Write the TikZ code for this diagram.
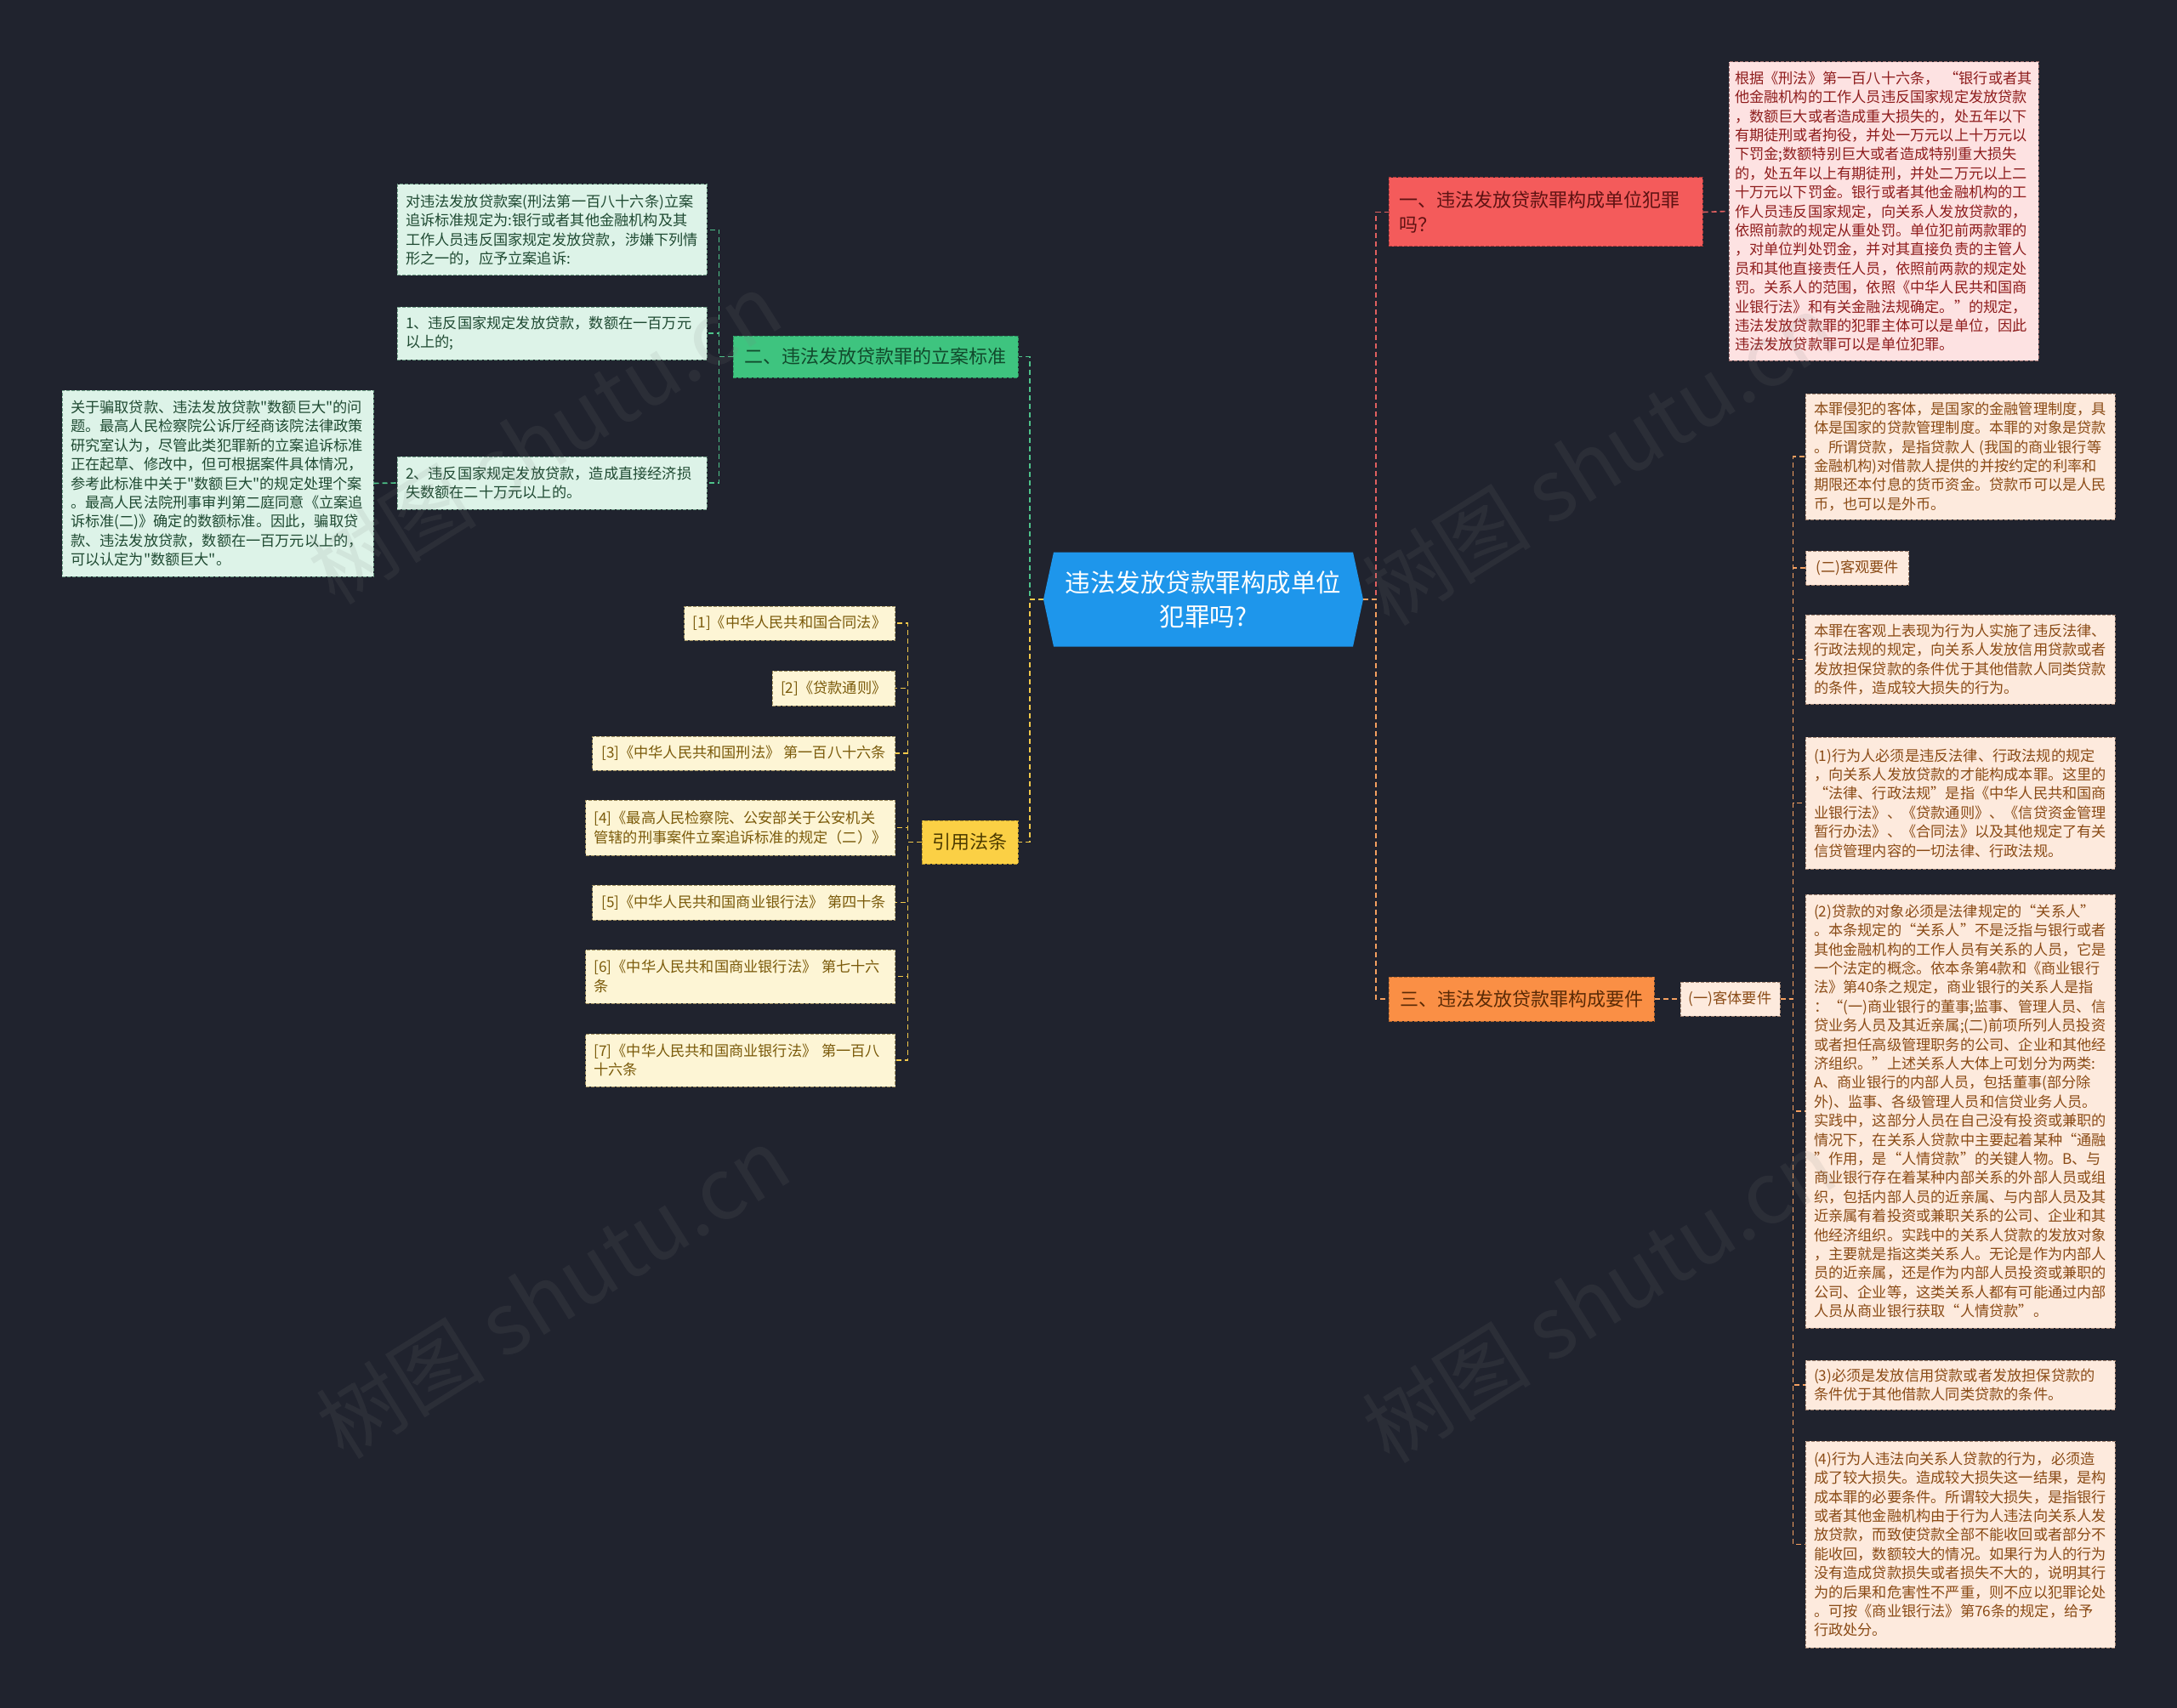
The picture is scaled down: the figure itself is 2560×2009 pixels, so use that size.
\documentclass[tikz,border=0pt]{standalone}
\usepackage{fontspec}
\setmainfont{Noto Sans CJK SC}[Ligatures=TeXOff]
\usetikzlibrary{calc}
\definecolor{bgc}{HTML}{20232E}
\definecolor{cblue}{HTML}{1E96EB}
\definecolor{redf}{HTML}{F45B5B}
\definecolor{redd}{HTML}{B03A3A}
\definecolor{redt}{HTML}{5E1212}
\definecolor{pinkf}{HTML}{FDE2E2}
\definecolor{pinkd}{HTML}{A07070}
\definecolor{pinkt}{HTML}{8E1D1D}
\definecolor{orgf}{HTML}{FA8F45}
\definecolor{orgd}{HTML}{B8692E}
\definecolor{orgt}{HTML}{5A2A05}
\definecolor{peachf}{HTML}{FDEADD}
\definecolor{peachd}{HTML}{A08270}
\definecolor{peacht}{HTML}{8A4B16}
\definecolor{grnf}{HTML}{3EC47F}
\definecolor{grnd}{HTML}{2E8F5E}
\definecolor{grnt}{HTML}{114A2C}
\definecolor{lgrnf}{HTML}{DDF3E8}
\definecolor{lgrnd}{HTML}{70A088}
\definecolor{lgrnt}{HTML}{1F4A32}
\definecolor{ylwf}{HTML}{FBD045}
\definecolor{ylwd}{HTML}{B8962E}
\definecolor{ylwt}{HTML}{4D3B00}
\definecolor{lylwf}{HTML}{FDF5D5}
\definecolor{lylwd}{HTML}{A09060}
\definecolor{lylwt}{HTML}{7A5A0A}
\definecolor{lred}{HTML}{E06060}
\definecolor{lorg}{HTML}{F5A060}
\definecolor{lgrn}{HTML}{4EC38A}
\definecolor{lylw}{HTML}{F3C94A}
\tikzset{
  base/.style={draw, dashed, dash pattern=on 4pt off 2pt, line width=1pt, inner xsep=10pt, inner ysep=3pt, align=left, font=\fontsize{17.2pt}{22.4pt}\selectfont},
  pinkbox/.style={base, fill=pinkf, draw=pinkd, text=pinkt},
  peachbox/.style={base, fill=peachf, draw=peachd, text=peacht},
  lgrnbox/.style={base, fill=lgrnf, draw=lgrnd, text=lgrnt},
  lylwbox/.style={base, fill=lylwf, draw=lylwd, text=lylwt},
  wide/.style={text width=344pt},
  br/.style={base, inner xsep=12pt, font=\fontsize{22pt}{29pt}\selectfont},
  conn/.style={line width=1.6pt, dash pattern=on 6pt off 4pt},
  wm/.style={text=gray, text opacity=0.12, rotate=32, font=\fontsize{100pt}{100pt}\selectfont}
}
\begin{document}
\begin{tikzpicture}[x=1pt,y=-1pt]
\fill[bgc] (0,0) rectangle (2560,2009);
\useasboundingbox (0,0) rectangle (2560,2009);

% center
\fill[cblue] (1227,705) -- (1239,649.5) -- (1591,649.5) -- (1603,705) -- (1591,760.5) -- (1239,760.5) -- cycle;
\node[minimum width=376pt, minimum height=111pt, inner sep=0pt, text=white, align=center, font=\fontsize{29.5pt}{40pt}\selectfont] (center) at (1415,705) {违法发放贷款罪构成单位\\犯罪吗?};

% right branches
\node[br, fill=redf, draw=redd, text=redt, text width=345pt, minimum height=81pt] (n1) at (1817.5,249.5) {一、违法发放贷款罪构成单位犯罪\\吗？};
\node[br, fill=orgf, draw=orgd, text=orgt, minimum width=312pt, minimum height=52pt] (n3) at (1789,1175) {三、违法发放贷款罪构成要件};

\node[pinkbox, text width=350pt, inner xsep=7pt, minimum height=351pt] (P) at (2215,248.5) {根据《刑法》第一百八十六条，~“银行或者其\\他金融机构的工作人员违反国家规定发放贷款\\，数额巨大或者造成重大损失的，处五年以下\\有期徒刑或者拘役，并处一万元以上十万元以\\下罚金;数额特别巨大或者造成特别重大损失\\的，处五年以上有期徒刑，并处二万元以上二\\十万元以下罚金。银行或者其他金融机构的工\\作人员违反国家规定，向关系人发放贷款的，\\依照前款的规定从重处罚。单位犯前两款罪的\\，对单位判处罚金，并对其直接负责的主管人\\员和其他直接责任人员，依照前两款的规定处\\罚。关系人的范围，依照《中华人民共和国商\\业银行法》和有关金融法规确定。”的规定，\\违法发放贷款罪的犯罪主体可以是单位，因此\\违法发放贷款罪可以是单位犯罪。};

\node[peachbox, minimum width=117pt, minimum height=40pt, align=center, inner xsep=6pt] (K1) at (2034.5,1175) {(一)客体要件};

\node[peachbox, wide, minimum height=148pt] (A) at (2305,537) {本罪侵犯的客体，是国家的金融管理制度，具\\体是国家的贷款管理制度。本罪的对象是贷款\\。所谓贷款，是指贷款人 (我国的商业银行等\\金融机构)对借款人提供的并按约定的利率和\\期限还本付息的货币资金。贷款币可以是人民\\币，也可以是外币。};
\node[peachbox, minimum width=121pt, minimum height=40pt, align=center, inner xsep=6pt, anchor=west] (K2) at (2123,668) {(二)客观要件};
\node[peachbox, wide, minimum height=105pt] (B) at (2305,775.5) {本罪在客观上表现为行为人实施了违反法律、\\行政法规的规定，向关系人发放信用贷款或者\\发放担保贷款的条件优于其他借款人同类贷款\\的条件，造成较大损失的行为。};
\node[peachbox, wide, minimum height=155pt] (C1) at (2305,944.5) {(1)行为人必须是违反法律、行政法规的规定\\，向关系人发放贷款的才能构成本罪。这里的\\“法律、行政法规”是指《中华人民共和国商\\业银行法》、《贷款通则》、《信贷资金管理\\暂行办法》、《合同法》以及其他规定了有关\\信贷管理内容的一切法律、行政法规。};
\node[peachbox, wide, minimum height=510pt] (C2) at (2305,1307) {(2)贷款的对象必须是法律规定的“关系人”\\。本条规定的“关系人”不是泛指与银行或者\\其他金融机构的工作人员有关系的人员，它是\\一个法定的概念。依本条第4款和《商业银行\\法》第40条之规定，商业银行的关系人是指\\：“(一)商业银行的董事;监事、管理人员、信\\贷业务人员及其近亲属;(二)前项所列人员投资\\或者担任高级管理职务的公司、企业和其他经\\济组织。”上述关系人大体上可划分为两类:\\A、商业银行的内部人员，包括董事(部分除\\外)、监事、各级管理人员和信贷业务人员。\\实践中，这部分人员在自己没有投资或兼职的\\情况下，在关系人贷款中主要起着某种“通融\\”作用，是“人情贷款”的关键人物。B、与\\商业银行存在着某种内部关系的外部人员或组\\织，包括内部人员的近亲属、与内部人员及其\\近亲属有着投资或兼职关系的公司、企业和其\\他经济组织。实践中的关系人贷款的发放对象\\，主要就是指这类关系人。无论是作为内部人\\员的近亲属，还是作为内部人员投资或兼职的\\公司、企业等，这类关系人都有可能通过内部\\人员从商业银行获取“人情贷款”。};
\node[peachbox, wide, minimum height=58pt] (C3) at (2305,1629) {(3)必须是发放信用贷款或者发放担保贷款的\\条件优于其他借款人同类贷款的条件。};
\node[peachbox, wide, minimum height=243pt] (C4) at (2305,1816.5) {(4)行为人违法向关系人贷款的行为，必须造\\成了较大损失。造成较大损失这一结果，是构\\成本罪的必要条件。所谓较大损失，是指银行\\或者其他金融机构由于行为人违法向关系人发\\放贷款，而致使贷款全部不能收回或者部分不\\能收回，数额较大的情况。如果行为人的行为\\没有造成贷款损失或者损失不大的，说明其行\\为的后果和危害性不严重，则不应以犯罪论处\\。可按《商业银行法》第76条的规定，给予\\行政处分。};

% left branches
\node[br, fill=grnf, draw=grnd, text=grnt, minimum width=335pt, minimum height=49pt, align=center] (n2) at (1029.5,419.5) {二、违法发放贷款罪的立案标准};
\node[br, fill=ylwf, draw=ylwd, text=ylwt, minimum width=113pt, minimum height=51pt, align=center] (yin) at (1140.5,990.5) {引用法条};

\node[lgrnbox, wide, minimum height=107pt] (G1) at (649,270.5) {对违法发放贷款案(刑法第一百八十六条)立案\\追诉标准规定为:银行或者其他金融机构及其\\工作人员违反国家规定发放贷款，涉嫌下列情\\形之一的，应予立案追诉:};
\node[lgrnbox, wide, minimum height=62pt] (G2) at (649,392) {1、违反国家规定发放贷款，数额在一百万元\\以上的;};
\node[lgrnbox, wide, minimum height=62pt] (G3) at (649,568) {2、违反国家规定发放贷款，造成直接经济损\\失数额在二十万元以上的。};
\node[lgrnbox, text width=346pt, minimum height=219pt] (G4) at (256,568.5) {关于骗取贷款、违法发放贷款"数额巨大"的问\\题。最高人民检察院公诉厅经商该院法律政策\\研究室认为，尽管此类犯罪新的立案追诉标准\\正在起草、修改中，但可根据案件具体情况，\\参考此标准中关于"数额巨大"的规定处理个案\\。最高人民法院刑事审判第二庭同意《立案追\\诉标准(二)》确定的数额标准。因此，骗取贷\\款、违法发放贷款，数额在一百万元以上的，\\可以认定为"数额巨大"。};

\node[lylwbox, align=center, anchor=east, minimum width=248pt, minimum height=40pt] (Y1) at (1053,733) {[1]《中华人民共和国合同法》};
\node[lylwbox, align=center, anchor=east, minimum width=144pt, minimum height=41pt] (Y2) at (1053,809.5) {[2]《贷款通则》};
\node[lylwbox, align=center, anchor=east, minimum width=356pt, minimum height=40pt] (Y3) at (1053,886) {[3]《中华人民共和国刑法》 第一百八十六条};
\node[lylwbox, wide, anchor=east, minimum height=65pt] (Y4) at (1053,973.5) {[4]《最高人民检察院、公安部关于公安机关\\管辖的刑事案件立案追诉标准的规定（二）》};
\node[lylwbox, align=center, anchor=east, minimum width=356pt, minimum height=41pt] (Y5) at (1053,1061.5) {[5]《中华人民共和国商业银行法》 第四十条};
\node[lylwbox, wide, anchor=east, minimum height=63pt] (Y6) at (1053,1148.5) {[6]《中华人民共和国商业银行法》 第七十六\\条};
\node[lylwbox, wide, anchor=east, minimum height=62pt] (Y7) at (1053,1247) {[7]《中华人民共和国商业银行法》 第一百八\\十六条};

% connectors
\draw[conn, lred] (center.east) -- ++(15,0) |- (n1.west);
\draw[conn, lorg] (center.east) -- ++(15,0) |- (n3.west);
\draw[conn, lred] (n1.east) -- (P.west);
\draw[conn, lorg] (n3.east) -- (K1.west);
\foreach \c in {A,K2,B,C1,C2,C3,C4} \draw[conn, lorg] (K1.east) -- ++(15,0) |- (\c.west);
\draw[conn, lgrn] (center.west) -- ++(-16,0) |- (n2.east);
\draw[conn, lylw] (center.west) -- ++(-16,0) |- (yin.east);
\foreach \c in {G1,G2,G3} \draw[conn, lgrn] (n2.west) -- ++(-16,0) |- (\c.east);
\draw[conn, lgrn] (G4.east) -- (G3.west);
\foreach \c in {Y1,Y2,Y3,Y4,Y5,Y6,Y7} \draw[conn, lylw] (yin.west) -- ++(-16,0) |- (\c.east);

% watermarks
\node[wm] (w1) at (640,515) {树图 shutu.cn};
\node[wm] (w2) at (1880,540) {树图 shutu.cn};
\node[wm] (w3) at (650,1520) {树图 shutu.cn};
\node[wm] (w4) at (1880,1525) {树图 shutu.cn};
\end{tikzpicture}
\end{document}
